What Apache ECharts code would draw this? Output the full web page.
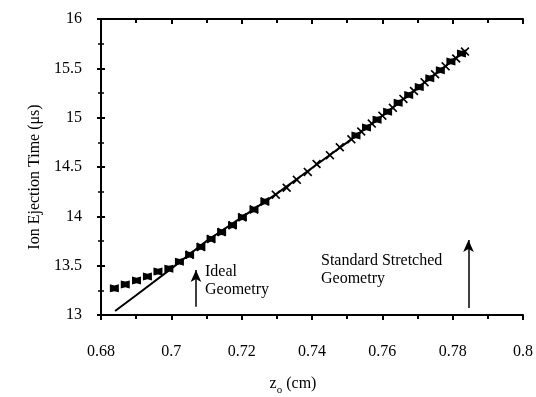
<!DOCTYPE html>
<html>
<head>
<meta charset="utf-8">
<script src="https://cdn.jsdelivr.net/npm/echarts@6/dist/echarts.min.js"></script>
<style>html,body{margin:0;padding:0;background:#fff}#c{width:536px;height:397px}</style>
</head>
<body>
<div id="c"></div>
<script>
// Square-marker series
const squareX = [0.6838,0.6869,0.6901,0.6932,0.6962,0.6993,0.7023,0.7052,0.7084,0.7113,0.7143,0.7174,0.7202,0.7235,0.7266,
  0.7525,0.7555,0.7585,0.7615,0.7645,0.7675,0.7705,0.7735,0.7765,0.7795,0.7825];
const squareY = [13.27,13.31,13.35,13.39,13.44,13.47,13.54,13.61,13.69,13.77,13.84,13.91,13.99,14.07,14.15,
  14.82,14.90,14.98,15.06,15.15,15.23,15.31,15.40,15.48,15.57,15.65];
// Cross-marker series
const crossX = [0.7052,0.7084,0.7113,0.7143,0.7174,0.7202,0.7235,0.7266,0.7297,0.7328,0.7357,0.7388,0.7413,0.7451,0.7479,0.7512,
  0.7540,0.7570,0.7600,0.7630,0.7660,0.7690,0.7720,0.7750,0.7780,0.7810,0.7835];
const crossY = [13.61,13.69,13.77,13.84,13.91,13.99,14.07,14.15,14.22,14.29,14.37,14.45,14.53,14.62,14.70,14.78,
  14.86,14.94,15.02,15.10,15.19,15.27,15.36,15.44,15.52,15.60,15.67];
// Solid curve
const lineX = [0.684,0.690,0.700,0.705,0.710,0.720,0.730,0.740,0.750,0.760,0.770,0.780,0.7835];
const lineY = [13.04,13.20,13.47,13.61,13.75,13.99,14.23,14.49,14.75,15.02,15.30,15.58,15.68];
// Axes
const xTickLabels = ['0.68','0.7','0.72','0.74','0.76','0.78','0.8'];
const yTickLabels = ['13','13.5','14','14.5','15','15.5','16'];
const xMin = 0.68, xMax = 0.8, xStep = 0.02;
const yMin = 13, yMax = 16, yStep = 0.5;
const xTitle = ['z', 'o', ' (cm)'];
const yTitle = 'Ion Ejection Time (\u03bcs)';
// Annotations
const ideal = {x: 0.707, y0: 13.084, y1: 13.455, text: ['Ideal', 'Geometry']};
const stretched = {x: 0.7845, y0: 13.07, y1: 13.76, text: ['Standard Stretched', 'Geometry']};

const zip = (a, b) => a.map((v, i) => [v, b[i]]);
const FONT = 'Liberation Serif';
const fmt = (list, min, step) => v => {
  const i = Math.round((v - min) / step);
  return list[i] !== undefined ? list[i] : '';
};

const chart = echarts.init(document.getElementById('c'), null, {renderer: 'canvas'});
const baseX = {
  type: 'value', min: xMin, max: xMax, interval: xStep,
  splitLine: {show: false},
  axisLine: {lineStyle: {color: '#000', width: 2}},
  minorTick: {show: true, splitNumber: 2, length: 4, lineStyle: {color: '#000', width: 2}},
};
const baseY = {
  type: 'value', min: yMin, max: yMax, interval: yStep,
  splitLine: {show: false},
  axisLine: {lineStyle: {color: '#000', width: 2}},
  minorTick: {show: true, splitNumber: 2, length: 3, lineStyle: {color: '#000', width: 1.5}},
};
const crossPath = 'path://M0,1.3L1.3,0L5,3.7L8.7,0L10,1.3L6.3,5L10,8.7L8.7,10L5,6.3L1.3,10L0,8.7L3.7,5Z';
const bowPath = 'path://M0,0L5,1.5L10,0L10,10L5,8.5L0,10Z';
const txt = '16px "Liberation Serif"';

chart.setOption({
  animation: false,
  backgroundColor: '#fff',
  grid: {left: 101, right: 9, top: 19, bottom: 82, containLabel: false},
  xAxis: [
    Object.assign({}, baseX, {
      axisTick: {show: true, inside: false, length: 5, lineStyle: {color: '#000', width: 2}},
      axisLabel: {fontFamily: FONT, fontSize: 16, color: '#000', margin: 29, formatter: fmt(xTickLabels, xMin, xStep)},
    }),
    Object.assign({}, baseX, {
      axisTick: {show: true, inside: true, length: 5, lineStyle: {color: '#000', width: 2}},
      axisLabel: {show: false},
    }),
  ],
  yAxis: [
    Object.assign({}, baseY, {
      axisTick: {show: true, inside: false, length: 4, lineStyle: {color: '#000', width: 2}},
      axisLabel: {fontFamily: FONT, fontSize: 16, color: '#000', margin: 19, formatter: fmt(yTickLabels, yMin, yStep)},
    }),
    Object.assign({}, baseY, {
      position: 'left',
      axisTick: {show: true, inside: true, length: 4, lineStyle: {color: '#000', width: 2}},
      axisLabel: {show: false},
    }),
  ],
  series: [
    {
      type: 'line', data: zip(lineX, lineY), showSymbol: false, symbol: 'none',
      lineStyle: {color: '#000', width: 2}, z: 2, silent: true,
      markLine: {
        silent: true, symbol: ['none', 'arrow'], symbolSize: [8, 12],
        label: {show: false},
        lineStyle: {color: '#000', width: 1.5, type: 'solid'},
        data: [
          [{coord: [ideal.x, ideal.y0]}, {coord: [ideal.x, ideal.y1]}],
          [{coord: [stretched.x, stretched.y0]}, {coord: [stretched.x, stretched.y1]}],
        ],
      },
    },
    {
      type: 'scatter', data: zip(squareX, squareY), symbol: bowPath, symbolSize: [9, 8],
      itemStyle: {color: '#000', opacity: 1}, z: 3, silent: true,
    },
    {
      type: 'scatter', data: zip(crossX, crossY), symbol: crossPath, symbolSize: 9,
      itemStyle: {color: '#000', opacity: 1}, z: 4, silent: true,
    },
  ],
  graphic: [
    {type: 'text', left: 205, top: 264, style: {text: ideal.text[0], font: txt, fill: '#000'}},
    {type: 'text', left: 205, top: 282, style: {text: ideal.text[1], font: txt, fill: '#000'}},
    {type: 'text', left: 321, top: 253, style: {text: stretched.text[0], font: txt, fill: '#000'}},
    {type: 'text', left: 321, top: 271, style: {text: stretched.text[1], font: txt, fill: '#000'}},
    {type: 'text', x: 35, y: 177, rotation: Math.PI / 2,
      style: {text: yTitle, font: txt, fill: '#000', align: 'center', verticalAlign: 'middle'}},
    {type: 'text', x: 293, y: 384,
      style: {
        text: '{a|' + xTitle[0] + '}{s|' + xTitle[1] + '}{a|' + xTitle[2] + '}',
        align: 'center', verticalAlign: 'middle', fill: '#000',
        rich: {
          a: {fontFamily: FONT, fontSize: 16, color: '#000', verticalAlign: 'bottom'},
          s: {fontFamily: FONT, fontSize: 11, color: '#000', verticalAlign: 'bottom', padding: [0, 0, -4, 0]},
        },
      }},
  ],
});
</script>
</body>
</html>
